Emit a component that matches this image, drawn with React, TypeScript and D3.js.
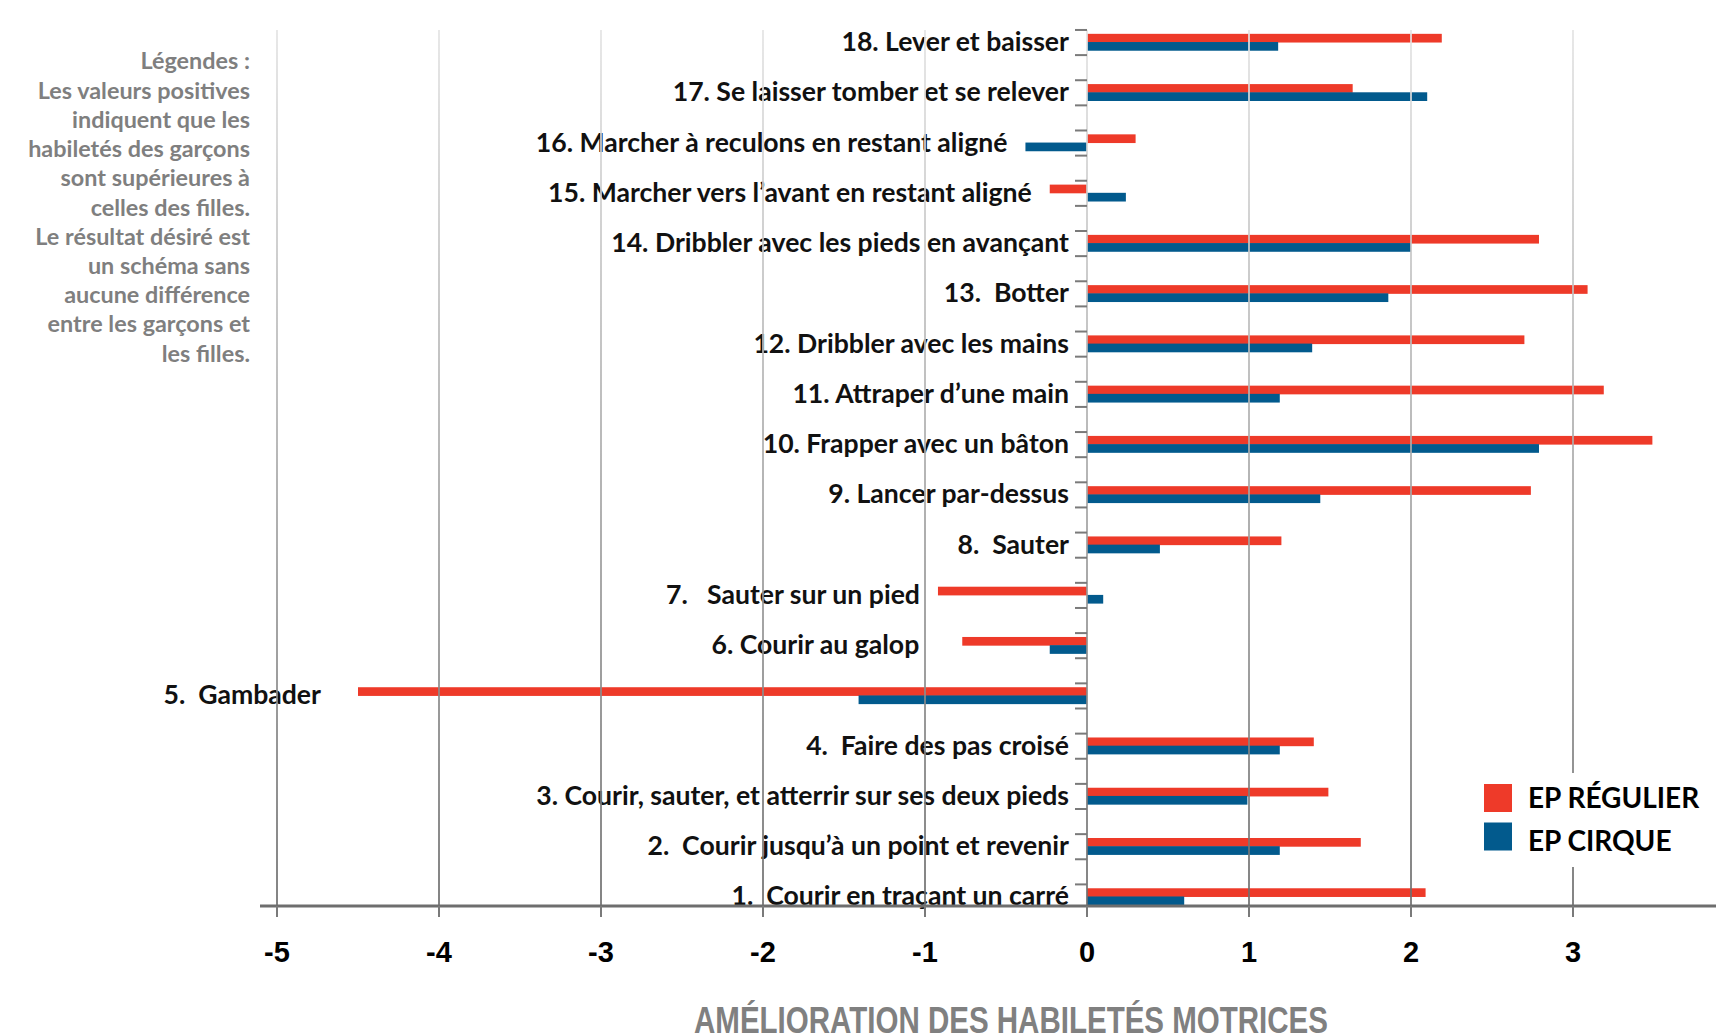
import React, { useRef, useEffect } from 'react';
import * as d3 from 'd3';

// skill numbers, bottom (1) to top (18)
const skillIds = [1, 2, 3, 4, 5, 6, 7, 8, 9, 10, 11, 12, 13, 14, 15, 16, 17, 18];

const skillLabels = [
  '1.  Courir en traçant un carré',
  '2.  Courir jusqu’à un point et revenir',
  '3. Courir, sauter, et atterrir sur ses deux pieds',
  '4.  Faire des pas croisé',
  '5.  Gambader',
  '6. Courir au galop',
  '7.   Sauter sur un pied',
  '8.  Sauter',
  '9. Lancer par-dessus',
  '10. Frapper avec un bâton',
  '11. Attraper d’une main',
  '12. Dribbler avec les mains',
  '13.  Botter',
  '14. Dribbler avec les pieds en avançant',
  '15. Marcher vers l’avant en restant aligné',
  '16. Marcher à reculons en restant aligné',
  '17. Se laisser tomber et se relever',
  '18. Lever et baisser',
];

// EP régulier (red)
const regularValues = [2.09, 1.69, 1.49, 1.4, -4.5, -0.77, -0.92, 1.2, 2.74, 3.49, 3.19, 2.7, 3.09, 2.79, -0.23, 0.3, 1.64, 2.19];
// EP cirque (blue)
const circusValues = [0.6, 1.19, 0.99, 1.19, -1.41, -0.23, 0.1, 0.45, 1.44, 2.79, 1.19, 1.39, 1.86, 2.0, 0.24, -0.38, 2.1, 1.18];

const xTicks = [-5, -4, -3, -2, -1, 0, 1, 2, 3];

const seriesNames = ['EP RÉGULIER', 'EP CIRQUE'];

const noteLines = [
  'Légendes :',
  'Les valeurs positives',
  'indiquent que les',
  'habiletés des garçons',
  'sont supérieures à',
  'celles des filles.',
  'Le résultat désiré est',
  'un schéma sans',
  'aucune différence',
  'entre les garçons et',
  'les filles.',
];

const axisTitle = 'AMÉLIORATION DES HABILETÉS MOTRICES';

const RED = '#ee3a29';
const BLUE = '#025a8d';
const FONT = 'Lato, "Open Sans", sans-serif';
const NARROW = '"Liberation Sans Narrow", "Liberation Sans", sans-serif';

const App: React.FC = () => {
  const svgRef = useRef<SVGSVGElement | null>(null);
  const width = 1716;
  const height = 1035;

  useEffect(() => {
    if (!svgRef.current) return;
    const svg = d3.select(svgRef.current);
    svg.selectAll('*').remove();

    const x = d3.scaleLinear().domain([-5, 3]).range([277, 1573]);
    const y = d3.scaleBand<number>()
      .domain([...skillIds].reverse())
      .range([17.4, 922.1])
      .padding(0);
    const band = y.bandwidth();
    const cy = (id: number) => (y(id) as number) + band / 2;
    const barH = 8.7;
    const axisY = 906;
    const gridTop = 30;

    const rows = skillIds.map((id, i) => ({
      id,
      label: skillLabels[i],
      reg: regularValues[i],
      cir: circusValues[i],
    }));

    // gradient for the grid (light at the top, darker near the axis)
    const defs = svg.append('defs');
    const grad = defs.append('linearGradient')
      .attr('id', 'gridGrad')
      .attr('gradientUnits', 'userSpaceOnUse')
      .attr('x1', 0).attr('x2', 0)
      .attr('y1', gridTop).attr('y2', axisY);
    grad.append('stop').attr('offset', '0%').attr('stop-color', '#e4e4e4');
    grad.append('stop').attr('offset', '45%').attr('stop-color', '#b0b0b0');
    grad.append('stop').attr('offset', '100%').attr('stop-color', '#6e6e6e');

    // bars
    const bars = svg.append('g');
    bars.selectAll('.reg')
      .data(rows)
      .enter()
      .append('rect')
      .attr('x', d => Math.min(x(0), x(d.reg)))
      .attr('width', d => Math.abs(x(d.reg) - x(0)))
      .attr('y', d => cy(d.id) - barH)
      .attr('height', barH)
      .attr('fill', RED);
    bars.selectAll('.cir')
      .data(rows)
      .enter()
      .append('rect')
      .attr('x', d => Math.min(x(0), x(d.cir)))
      .attr('width', d => Math.abs(x(d.cir) - x(0)))
      .attr('y', d => cy(d.id) - 0.5)
      .attr('height', barH)
      .attr('fill', BLUE);

    // category labels, placed left of the leftmost bar
    const labelNudge: Record<number, number> = { 6: -25, 5: -19 };
    svg.append('g')
      .selectAll('text')
      .data(rows)
      .enter()
      .append('text')
      .attr('x', d => x(Math.min(0, d.reg, d.cir)) - 18 + (labelNudge[d.id] || 0))
      .attr('y', d => cy(d.id) + 8.5)
      .attr('text-anchor', 'end')
      .attr('font-family', FONT)
      .attr('font-weight', 700)
      .attr('font-size', 26.6)
      .attr('fill', '#111')
      .style('white-space', 'pre')
      .text(d => d.label);

    // vertical grid lines
    svg.append('g')
      .selectAll('line')
      .data(xTicks)
      .enter()
      .append('line')
      .attr('x1', d => x(d)).attr('x2', d => x(d))
      .attr('y1', gridTop).attr('y2', axisY)
      .attr('stroke', 'url(#gridGrad)')
      .attr('stroke-width', 2)
      .attr('opacity', 0.85);

    // y tick marks at quarter bands
    const yTicks: number[] = [];
    skillIds.forEach(id => {
      yTicks.push(cy(id) - band / 4);
      yTicks.push(cy(id) + band / 4);
    });
    svg.append('g')
      .selectAll('line')
      .data(yTicks.filter(t => t < axisY - 2))
      .enter()
      .append('line')
      .attr('x1', x(0) - 12).attr('x2', x(0))
      .attr('y1', d => d).attr('y2', d => d)
      .attr('stroke', '#7a7a7a')
      .attr('stroke-width', 2);

    // x axis
    const xAxis = svg.append('g');
    xAxis.append('line')
      .attr('x1', 260).attr('x2', width)
      .attr('y1', axisY).attr('y2', axisY)
      .attr('stroke', '#6e6e6e')
      .attr('stroke-width', 3);
    xAxis.selectAll('.tick')
      .data(xTicks)
      .enter()
      .append('line')
      .attr('x1', d => x(d)).attr('x2', d => x(d))
      .attr('y1', axisY).attr('y2', axisY + 11)
      .attr('stroke', '#7a7a7a')
      .attr('stroke-width', 2);
    xAxis.selectAll('.tlabel')
      .data(xTicks)
      .enter()
      .append('text')
      .attr('x', d => x(d))
      .attr('y', 962)
      .attr('text-anchor', 'middle')
      .attr('font-family', NARROW)
      .attr('font-weight', 700)
      .attr('font-size', 29)
      .attr('fill', '#000')
      .text(d => String(d));

    svg.append('text')
      .attr('x', 1011)
      .attr('y', 1033)
      .attr('text-anchor', 'middle')
      .attr('font-family', NARROW)
      .attr('font-weight', 700)
      .attr('font-size', 37)
      .attr('textLength', 634)
      .attr('lengthAdjust', 'spacingAndGlyphs')
      .attr('fill', '#808080')
      .text(axisTitle);

    // note on the left
    svg.append('g')
      .selectAll('text')
      .data(noteLines)
      .enter()
      .append('text')
      .attr('x', 250)
      .attr('y', (d, i) => 69.3 + i * 29.24)
      .attr('text-anchor', 'end')
      .attr('font-family', FONT)
      .attr('font-weight', 700)
      .attr('font-size', 23.4)
      .attr('fill', '#7f7f7f')
      .text(d => d);

    // series legend
    const legend = svg.append('g');
    legend.append('rect')
      .attr('x', 1470).attr('y', 773)
      .attr('width', width - 1470).attr('height', 94)
      .attr('fill', '#fff');
    [RED, BLUE].forEach((c, i) => {
      legend.append('rect')
        .attr('x', 1484).attr('y', 784 + i * 38.5)
        .attr('width', 28).attr('height', 28)
        .attr('fill', c);
      legend.append('text')
        .attr('x', 1528).attr('y', 808 + i * 43)
        .attr('font-family', FONT)
        .attr('font-weight', 700)
        .attr('font-size', 28)
        .attr('fill', '#000')
        .text(seriesNames[i]);
    });
  }, []);

  return (
    <svg
      ref={svgRef}
      width={width}
      height={height}
      style={{ position: 'absolute', left: 0, top: 0, background: '#fff' }}
    ></svg>
  );
};

export default App;
